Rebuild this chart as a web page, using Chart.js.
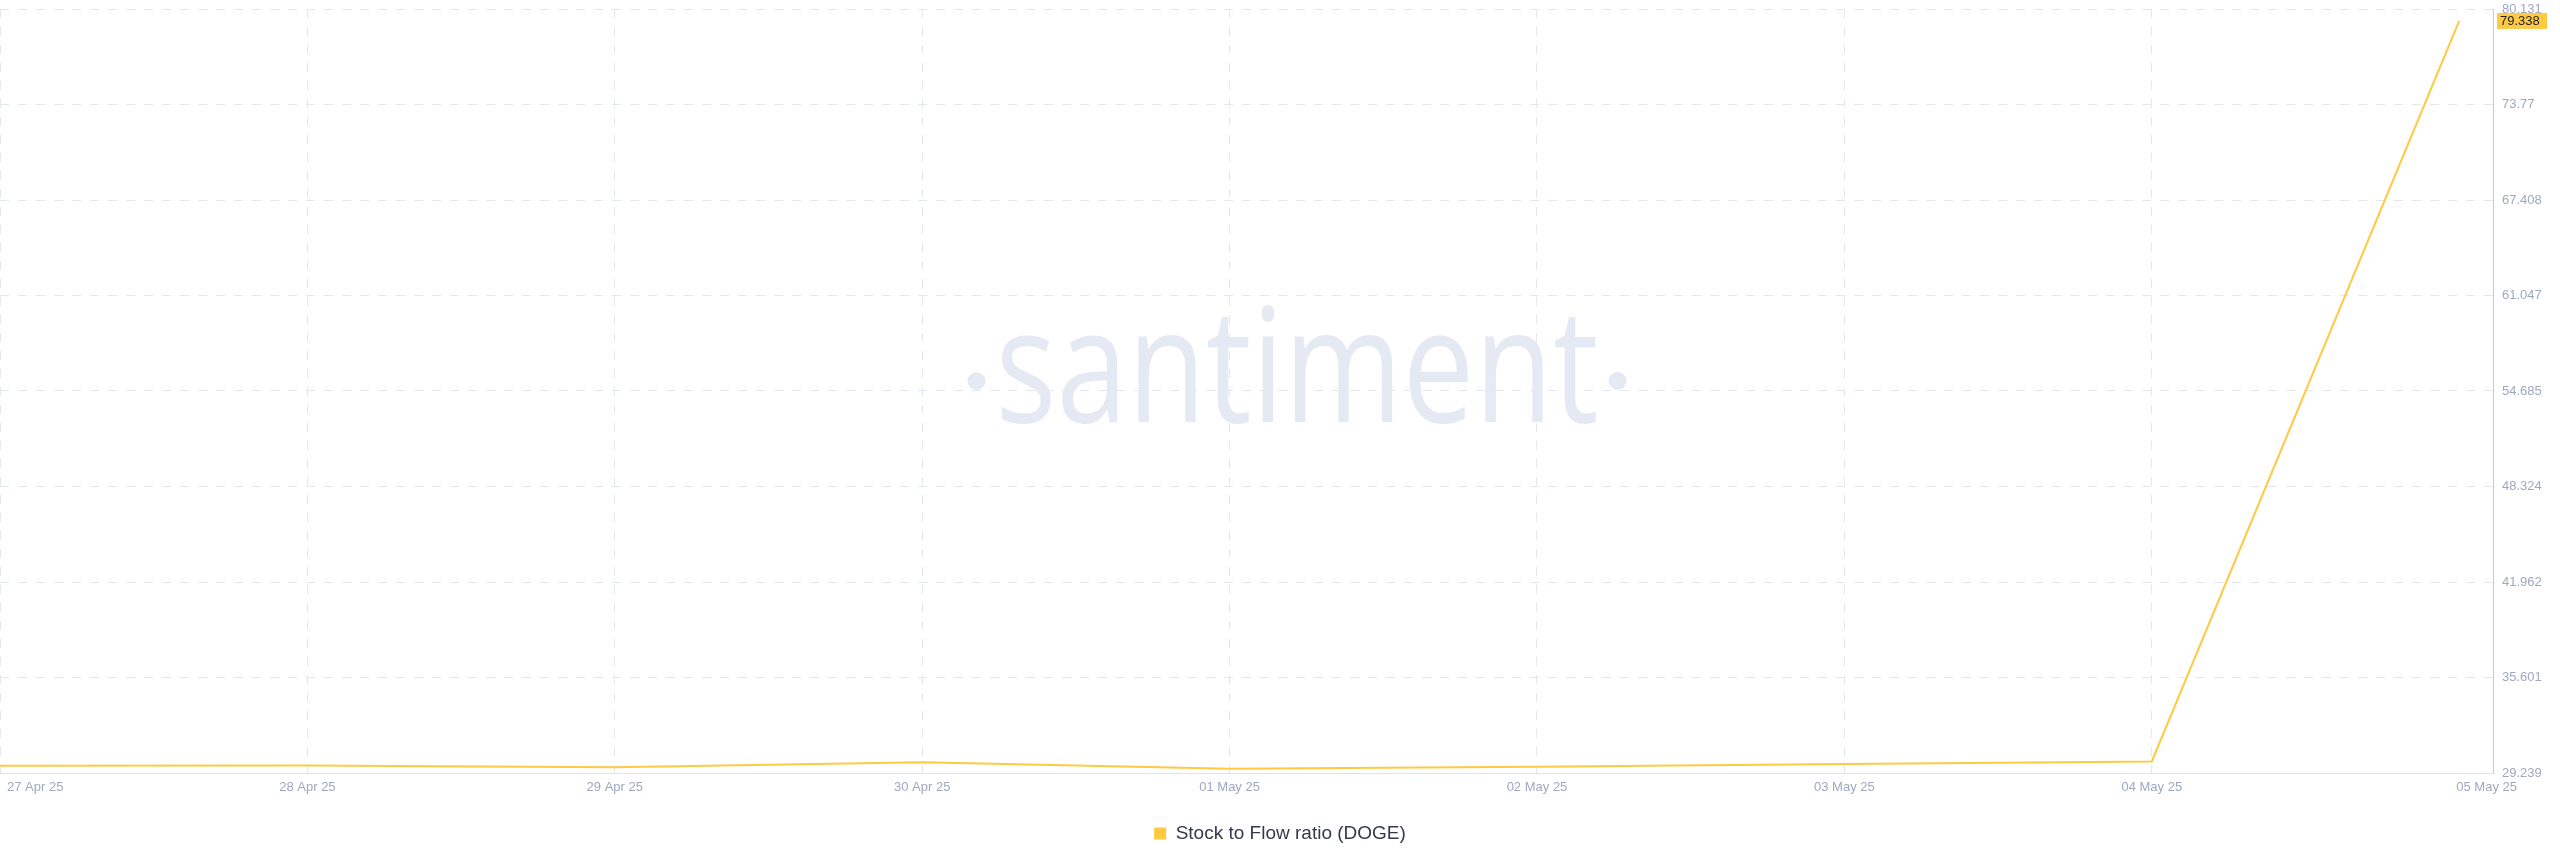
<!DOCTYPE html>
<html lang="en">
<head>
    <meta charset="UTF-8">
    <meta name="viewport" content="width=device-width, initial-scale=1.0">
    <script src="https://cdn.jsdelivr.net/npm/chart.js"></script>
    <title>Stock to Flow ratio (DOGE)</title>
    <style>
        html, body { margin: 0; padding: 0; background: #ffffff; }
        #wrap { width: 2560px; height: 867px; position: relative; }
    </style>
</head>
<body>
    <div id="wrap">
        <canvas id="sfChart"></canvas>
    </div>

    <script>
        // data
        const dates = ['27 Apr 25', '28 Apr 25', '29 Apr 25', '30 Apr 25', '01 May 25', '02 May 25', '03 May 25', '04 May 25', '05 May 25'];
        const stockToFlow = [29.73, 29.74, 29.62, 29.95, 29.53, 29.66, 29.84, 30.01, 79.338];
        const yTickLabels = ['29.239', '35.601', '41.962', '48.324', '54.685', '61.047', '67.408', '73.77', '80.131'];

        const lineColor = '#ffc942';
        const gridColor = '#e3e7f0';
        const tickColor = '#9ea8c1';
        const tickFont = { family: '"Liberation Sans", Arial, sans-serif', size: 13 };

        // watermark + x labels + last value badge
        const santimentExtras = {
            id: 'santimentExtras',
            beforeDatasetsDraw(chart) {
                const ctx = chart.ctx;
                const cx = chart.width / 2 + 17;
                const base = 422;
                ctx.save();
                ctx.fillStyle = '#e5e9f3';
                ctx.font = '160px "Open Sans"';
                ctx.textAlign = 'center';
                ctx.textBaseline = 'alphabetic';
                const half = ctx.measureText('santiment').width * 0.8 / 2;
                ctx.save();
                ctx.translate(cx, base);
                ctx.scale(0.8, 1);
                ctx.fillText('santiment', 0, 0);
                ctx.restore();
                [-1, 1].forEach(side => {
                    ctx.beginPath();
                    ctx.arc(cx + side * (half + 19), base - 41, 9, 0, Math.PI * 2);
                    ctx.fill();
                });
                ctx.restore();
            },
            afterDraw(chart) {
                const ctx = chart.ctx;
                const xs = chart.scales.x;
                const ys = chart.scales.y;
                const area = chart.chartArea;
                ctx.save();
                ctx.font = '13px "Liberation Sans", Arial, sans-serif';
                ctx.fillStyle = tickColor;
                ctx.textBaseline = 'middle';
                dates.forEach((d, i) => {
                    const px = xs.getPixelForValue(i);
                    const w = ctx.measureText(d).width;
                    if (i === dates.length - 1) {
                        ctx.textAlign = 'right';
                        ctx.fillText(d, area.right + 24, area.bottom + 14);
                    } else {
                        ctx.textAlign = 'center';
                        ctx.fillText(d, Math.max(px, area.left + 7 + w / 2), area.bottom + 14);
                    }
                });

                // badge with the latest value on the right axis
                const last = stockToFlow[stockToFlow.length - 1];
                const py = ys.getPixelForValue(last);
                ctx.fillStyle = lineColor;
                ctx.fillRect(area.right + 4, py - 8, 50, 16);
                ctx.fillStyle = '#1d2130';
                ctx.textAlign = 'left';
                ctx.fillText(last.toFixed(3), area.right + 7, py + 0.5);
                ctx.restore();
            }
        };

        const ctx = document.getElementById('sfChart').getContext('2d');
        const chart = new Chart(ctx, {
            type: 'line',
            data: {
                datasets: [{
                    label: 'Stock to Flow ratio (DOGE)',
                    data: stockToFlow.map((v, i) => ({ x: i, y: v })),
                    borderColor: lineColor,
                    backgroundColor: lineColor,
                    borderWidth: 2,
                    pointRadius: 0,
                    tension: 0,
                    fill: false
                }]
            },
            options: {
                responsive: true,
                maintainAspectRatio: false,
                devicePixelRatio: 1,
                animation: false,
                layout: { padding: { top: 9, right: 0, bottom: 14, left: 0 } },
                plugins: {
                    tooltip: { enabled: false },
                    legend: {
                        position: 'bottom',
                        labels: {
                            boxWidth: 12,
                            boxHeight: 12,
                            padding: 10,
                            color: '#353a4a',
                            font: { family: '"Liberation Sans", Arial, sans-serif', size: 19 },
                            generateLabels: c => Chart.defaults.plugins.legend.labels.generateLabels(c)
                                .map(l => ({ ...l, lineWidth: 0 }))
                        }
                    }
                },
                scales: {
                    x: {
                        type: 'linear',
                        min: 0,
                        max: 8.11,
                        afterBuildTicks: s => { s.ticks = dates.map((d, i) => ({ value: i })); },
                        afterFit: s => { s.height = 41; s.paddingLeft = 0; s.paddingRight = 0; },
                        ticks: { display: false },
                        grid: {
                            drawTicks: false,
                            color: c => (c.index === dates.length - 1 ? 'rgba(0,0,0,0)' : gridColor)
                        },
                        border: { color: '#dfe3ec', width: 1, dash: [9, 9] }
                    },
                    y: {
                        position: 'right',
                        min: parseFloat(yTickLabels[0]),
                        max: parseFloat(yTickLabels[yTickLabels.length - 1]),
                        afterBuildTicks: s => { s.ticks = yTickLabels.map(t => ({ value: parseFloat(t) })); },
                        afterFit: s => { s.width = 67; s.paddingTop = 0; s.paddingBottom = 0; },
                        ticks: {
                            padding: 9,
                            color: tickColor,
                            font: tickFont,
                            callback: (v, i) => yTickLabels[i]
                        },
                        grid: { drawTicks: false, color: gridColor },
                        border: { color: lineColor, width: 1, dash: [9, 9] }
                    }
                }
            },
            plugins: [santimentExtras]
        });
    </script>
</body>
</html>
